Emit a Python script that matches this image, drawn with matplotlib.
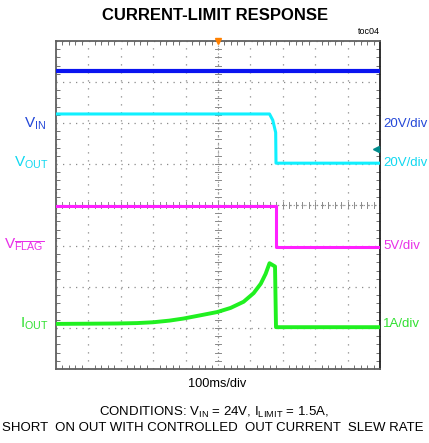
import numpy as np
import matplotlib
matplotlib.use("Agg")
import matplotlib.pyplot as plt
from matplotlib import font_manager

# pick a narrow sans if we have one, the scope plots use Arial Narrow
names = {f.name for f in font_manager.fontManager.ttflist}
font = 'Liberation Sans Narrow' if 'Liberation Sans Narrow' in names else 'Liberation Sans'
plt.rcParams['font.family'] = [font, 'DejaVu Sans']
plt.rcParams['mathtext.fontset'] = 'custom'
plt.rcParams['mathtext.rm'] = font
plt.rcParams['mathtext.it'] = font
plt.rcParams['mathtext.bf'] = font + ':bold'
plt.rcParams['mathtext.default'] = 'rm'

# traces (time in ms, 100ms/div)
vin_t = [0, 1000]
vin_v = [24, 24]                      # V, 20V/div

vout_t = [0, 659, 669, 678, 679, 1000]
vout_v = [24, 24, 21, 15, 0, 0]       # V, 20V/div

flag_t = [0, 679, 679, 1000]
flag_v = [5, 5, 0, 0]                 # V, 5V/div

iout_t = [0, 100, 188, 250, 300, 350, 393, 446, 498, 539, 579, 610, 632, 647, 659, 676, 679, 1000]
iout_a = [0.08, 0.085, 0.09, 0.10, 0.12, 0.16, 0.21, 0.29, 0.37, 0.47, 0.62,
          0.83, 1.06, 1.30, 1.56, 1.48, 0.0, 0.0]

# channel settings: (ground position in div, volts or amps per div)
vin_off, vin_scale = 6.07, 20
vout_off, vout_scale = 5.02, 20
flag_off, flag_scale = 2.98, 5
iout_off, iout_scale = 1.02, 1

fig = plt.figure(figsize=(4.29, 4.43), dpi=100)
ax = fig.add_axes([56/429, 1 - 369/443, 324/429, 328/443])
ax.set_xlim(0, 1000)
ax.set_ylim(0, 8)

# graticule
ax.set_xticks(np.arange(0, 1001, 100))
ax.set_yticks(np.arange(0, 8.1, 1))
ax.set_xticks(np.arange(0, 1001, 20), minor=True)
ax.set_yticks(np.arange(0, 8.01, 0.2), minor=True)
ax.tick_params(which='both', direction='in', top=True, right=True,
               labelbottom=False, labelleft=False, color='#707070')
ax.tick_params(which='major', length=0)
ax.tick_params(which='minor', length=3, width=0.7)
ax.grid(True, which='major', color='#8a8a8a', lw=0.9)
for g in ax.get_xgridlines():
    g.set_dashes([1, 5.4])
for g in ax.get_ygridlines():
    g.set_dashes([1, 4.2])
for s in ax.spines.values():
    s.set_color('#606060')
    s.set_linewidth(1.3)
ax.spines['right'].set_color('#202020')

# center cross with small marks
ax.axvline(500, color='#8a8a8a', lw=0.8, linestyle=(0, (1, 2.5)))
ax.axhline(4, color='#8a8a8a', lw=0.8, linestyle=(0, (1, 2.5)))
for yy in np.arange(0, 8.01, 0.2):
    ax.plot([490, 510], [yy, yy], color='#8a8a8a', lw=0.7)
for xx in np.arange(0, 1001, 20):
    ax.plot([xx, xx], [3.93, 4.07], color='#8a8a8a', lw=0.7)

# traces
ax.plot(vin_t, vin_off + np.array(vin_v) / vin_scale, color='#0a14f0', lw=3.0, zorder=5)
ax.plot(vout_t, vout_off + np.array(vout_v) / vout_scale, color='#10f0ff', lw=2.2, zorder=5)
ax.plot(flag_t, flag_off + np.array(flag_v) / flag_scale, color='#ff20ff', lw=2.2, zorder=5)
ax.plot(iout_t, iout_off + np.array(iout_a) / iout_scale, color='#20f020', lw=2.8, zorder=5)

# trigger markers
ax.plot([500], [8], marker='v', color='#ff8000', ms=5, clip_on=False, zorder=6)
ax.plot([988], [5.37], marker='<', color='#008c8c', ms=5, clip_on=False, zorder=6)

def ftext(x, y, s, **kw):
    fig.text(x / 429, 1 - y / 443, s, **kw)

ftext(215, 15, 'CURRENT-LIMIT RESPONSE', ha='center', va='center',
      fontsize=12, fontweight='bold')
ftext(380, 32, 'toc04', ha='right', va='center', fontsize=6.5)

ftext(46, 124, r'V$_{\mathrm{IN}}$', ha='right', va='center', fontsize=11, color='#2448d8')
ftext(49, 163, r'V$_{\mathrm{OUT}}$', ha='right', va='center', fontsize=11, color='#10d8f0')
ftext(44, 245, r'V$_{\overline{\mathrm{FLAG}}}$', ha='right', va='center', fontsize=11, color='#e830e8')
ftext(49, 324, r'I$_{\mathrm{OUT}}$', ha='right', va='center', fontsize=11, color='#30e030')

ftext(383, 124, '20V/div', ha='left', va='center', fontsize=9.5, color='#2448d8')
ftext(383, 163, '20V/div', ha='left', va='center', fontsize=9.5, color='#10d8f0')
ftext(383, 246, '5V/div', ha='left', va='center', fontsize=9.5, color='#e830e8')
ftext(383, 324, '1A/div', ha='left', va='center', fontsize=9.5, color='#30e030')

ftext(217, 384, '100ms/div', ha='center', va='center', fontsize=9.2)
ftext(214, 412, r'CONDITIONS: V$_{\mathrm{IN}}$ = 24V, I$_{\mathrm{LIMIT}}$ = 1.5A,',
      ha='center', va='center', fontsize=9.5)
ftext(213, 428, 'SHORT  ON OUT WITH CONTROLLED  OUT CURRENT  SLEW RATE',
      ha='center', va='center', fontsize=9.5)

fig.savefig('out.png', dpi=100)
